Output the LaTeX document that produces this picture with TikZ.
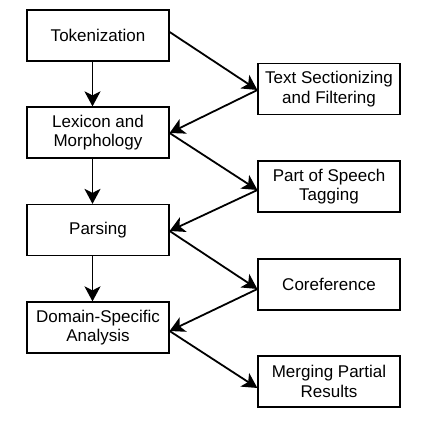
\documentclass[tikz,border=0pt]{standalone}
\usepackage{fontspec}
\setmainfont{Liberation Sans}
\usetikzlibrary{arrows.meta}
\begin{document}
\begin{tikzpicture}[x=1pt,y=1pt,
  box/.style={draw,line width=1.2pt,minimum width=142pt,minimum height=51pt,align=center,inner sep=0pt,font=\fontsize{17}{19.5}\selectfont},
  arr/.style={line width=1.8pt,-{Stealth[length=15pt,width=16pt,inset=4pt]}}]
\useasboundingbox (0,0) rectangle (429,422);
\node[box] (tok) at (98,386.5) {Tokenization};
\node[box] (lex) at (98,289.5) {Lexicon and\\Morphology};
\node[box] (par) at (98,192) {Parsing};
\node[box] (dom) at (98,94.5) {Domain-Specific\\Analysis};
\node[box] (tsf) at (329,333) {Text Sectionizing\\and Filtering};
\node[box] (pos) at (329,235.5) {Part of Speech\\Tagging};
\node[box] (cor) at (329,137.5) {Coreference};
\node[box] (mer) at (329,40.5) {Merging Partial\\Results};
\draw[arr] ([xshift=-5.5pt]tok.south) -- ([xshift=-5.5pt]lex.north);
\draw[arr] ([xshift=-5.5pt]lex.south) -- ([xshift=-5.5pt]par.north);
\draw[arr] ([xshift=-5.5pt]par.south) -- ([xshift=-5.5pt]dom.north);
\draw[arr] ([yshift=3.5pt]tok.east) -- ([yshift=-1pt]tsf.west);
\draw[arr] ([yshift=-1pt]tsf.west) -- ([yshift=-0.5pt]lex.east);
\draw[arr] ([yshift=-0.5pt]lex.east) -- ([yshift=-3.5pt]pos.west);
\draw[arr] ([yshift=-3.5pt]pos.west) -- ([yshift=-1pt]par.east);
\draw[arr] ([yshift=-1pt]par.east) -- ([yshift=-4.5pt]cor.west);
\draw[arr] ([yshift=-4.5pt]cor.west) -- ([yshift=-3.5pt]dom.east);
\draw[arr] ([yshift=-3.5pt]dom.east) -- ([yshift=-6.5pt]mer.west);
\end{tikzpicture}
\end{document}
